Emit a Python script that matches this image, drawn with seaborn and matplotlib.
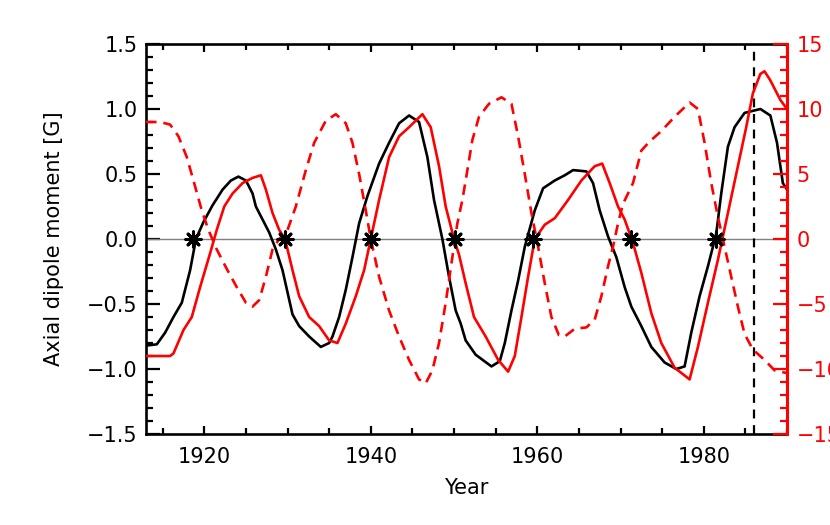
import numpy as np
import matplotlib
matplotlib.use("Agg")
import matplotlib.pyplot as plt
from matplotlib.ticker import MultipleLocator
import seaborn as sns

# axial dipole moment (left axis, G)
black_years = [1913.0, 1914.3, 1915.3, 1916.3, 1917.3, 1918.3, 1919.0, 1919.9, 1921.0, 1922.2,
               1923.2, 1924.1, 1925.0, 1925.8, 1926.2, 1927.0, 1927.8, 1928.6, 1929.4, 1930.6,
               1931.4, 1932.6, 1934.0, 1935.0, 1935.4, 1936.2, 1937.0, 1937.8, 1938.6, 1939.6,
               1941.0, 1942.2, 1943.4, 1944.6, 1945.8, 1946.8, 1947.6, 1948.6, 1949.4, 1950.2,
               1950.8, 1951.4, 1952.6, 1954.5, 1955.5, 1956.1, 1956.9, 1957.7, 1958.5, 1959.7,
               1960.7, 1962.1, 1963.3, 1964.3, 1965.9, 1966.7, 1967.5, 1968.5, 1969.5, 1970.5,
               1971.3, 1972.5, 1973.7, 1975.3, 1976.7, 1977.7, 1978.5, 1979.5, 1980.5, 1981.5,
               1982.1, 1982.9, 1983.7, 1984.9, 1986.8, 1988.0, 1988.8, 1989.5, 1990.0]
black_vals = [-0.82, -0.81, -0.72, -0.60, -0.49, -0.24, 0.0, 0.13, 0.26, 0.38,
              0.45, 0.48, 0.45, 0.35, 0.25, 0.15, 0.05, -0.08, -0.24, -0.58,
              -0.67, -0.75, -0.83, -0.80, -0.75, -0.60, -0.39, -0.14, 0.12, 0.33,
              0.58, 0.74, 0.89, 0.95, 0.90, 0.63, 0.30, 0.0, -0.29, -0.55,
              -0.65, -0.78, -0.89, -0.98, -0.94, -0.80, -0.55, -0.32, -0.06, 0.22,
              0.39, 0.45, 0.49, 0.53, 0.52, 0.43, 0.22, 0.02, -0.14, -0.37,
              -0.52, -0.67, -0.83, -0.95, -1.0, -0.98, -0.72, -0.44, -0.21, 0.04,
              0.35, 0.71, 0.86, 0.97, 1.0, 0.95, 0.74, 0.43, 0.38]

# red solid curve (right axis)
red_years = [1913.0, 1915.9, 1916.3, 1917.5, 1918.5, 1919.5, 1920.7, 1921.5, 1922.4, 1923.4,
             1924.6, 1925.8, 1926.8, 1927.4, 1928.2, 1929.0, 1929.7, 1930.6, 1931.4, 1932.6,
             1933.8, 1935.0, 1936.0, 1937.0, 1938.2, 1939.2, 1940.0, 1941.0, 1942.2, 1943.4,
             1944.6, 1946.2, 1947.2, 1948.2, 1949.0, 1950.0, 1950.6, 1951.4, 1952.4, 1953.8,
             1955.3, 1956.5, 1957.3, 1958.1, 1958.9, 1959.7, 1960.9, 1962.1, 1963.7, 1965.3,
             1966.9, 1967.8, 1968.7, 1969.7, 1970.5, 1971.5, 1972.5, 1973.7, 1974.9, 1976.5,
             1978.3, 1979.3, 1980.5, 1981.7, 1982.9, 1984.1, 1985.1, 1985.9, 1986.8, 1987.3,
             1988.0, 1989.2, 1990.0]
red_vals = [-9.0, -9.0, -8.8, -7.0, -6.0, -3.7, -1.1, 0.7, 2.5, 3.5,
            4.3, 4.7, 4.9, 3.8, 2.0, 0.7, 0.0, -2.4, -4.4, -6.0,
            -6.7, -7.8, -8.0, -6.5, -4.4, -2.4, 0.0, 3.0, 6.3, 7.9,
            8.6, 9.6, 8.6, 5.6, 2.5, 0.0, -1.2, -3.4, -6.0, -7.5,
            -9.3, -10.2, -9.0, -6.0, -2.9, 0.0, 1.1, 1.6, 3.0, 4.5,
            5.6, 5.8, 4.3, 2.5, 1.5, -0.3, -2.6, -5.7, -8.0, -9.9,
            -10.8, -8.3, -4.9, -1.6, 2.0, 5.6, 8.6, 11.2, 12.7, 12.9,
            12.2, 10.7, 10.0]

# red dashed curve (right axis)
dash_years = [1913.0, 1914.7, 1915.9, 1916.9, 1917.9, 1918.7, 1919.7, 1920.5, 1921.5, 1922.7,
              1923.9, 1925.0, 1925.8, 1926.6, 1927.4, 1928.2, 1929.0, 1930.0, 1931.0, 1932.2,
              1933.2, 1934.6, 1935.8, 1937.0, 1937.8, 1938.6, 1939.4, 1940.0, 1941.0, 1942.2,
              1943.4, 1944.6, 1945.8, 1946.6, 1947.4, 1948.2, 1949.0, 1949.8, 1950.4, 1951.0,
              1951.4, 1952.2, 1953.0, 1954.2, 1955.7, 1956.9, 1957.7, 1958.5, 1959.3, 1960.1,
              1960.9, 1961.7, 1962.6, 1963.3, 1964.5, 1965.9, 1966.9, 1967.7, 1968.5, 1969.1,
              1969.7, 1970.3, 1971.5, 1972.5, 1973.5, 1974.9, 1976.5, 1978.3, 1979.3, 1980.1,
              1980.9, 1981.7, 1982.5, 1983.3, 1984.1, 1984.9, 1985.9, 1987.3, 1988.5, 1989.9]
dash_vals = [9.0, 9.0, 8.8, 7.9, 6.3, 4.5, 2.2, 0.7, -0.8, -2.3,
             -3.7, -4.9, -5.2, -4.7, -2.9, -0.8, 0.0, 0.7, 2.5, 5.3,
             7.4, 9.1, 9.6, 8.9, 7.4, 5.0, 2.2, 0.0, -2.9, -5.5,
             -7.5, -9.3, -10.8, -11.1, -10.1, -8.0, -4.9, -1.4, 1.2, 3.0,
             4.5, 7.6, 9.4, 10.4, 10.9, 10.4, 7.9, 5.0, 2.0, -0.6,
             -3.4, -6.0, -7.4, -7.5, -6.9, -6.8, -6.2, -4.4, -2.1, -0.6,
             1.2, 2.7, 4.3, 6.8, 7.5, 8.3, 9.4, 10.5, 10.0, 7.4,
             4.3, 1.7, -0.6, -2.9, -5.2, -7.3, -8.5, -9.3, -10.1, -10.3]

# reversal times marked with asterisks
star_years = [1918.7, 1929.7, 1940.0, 1950.1, 1959.5, 1971.3, 1981.5]
star_vals = [0, 0, 0, 0, 0, 0, 0]

vline_year = 1986.0

sns.set_style("ticks")
plt.rcParams['font.family'] = ['DejaVu Sans']
plt.rcParams['font.size'] = 15
plt.rcParams['text.color'] = 'black'
plt.rcParams['axes.labelcolor'] = 'black'
plt.rcParams['xtick.color'] = 'black'
plt.rcParams['ytick.color'] = 'black'

fig = plt.figure(figsize=(8.3, 5.25), dpi=100)
ax = fig.add_axes([0.1759, 0.1733, 0.7723, 0.7429])
ax2 = ax.twinx()

ax.axhline(0, color='#808080', lw=1.0, zorder=1)
sns.lineplot(x=black_years, y=black_vals, ax=ax, color='black', linewidth=1.9, zorder=3)
ax.axvline(vline_year, color='black', lw=1.6, linestyle=(0, (4, 3)), zorder=2)

sns.lineplot(x=red_years, y=red_vals, ax=ax2, color='red', linewidth=1.9)
sns.lineplot(x=dash_years, y=dash_vals, ax=ax2, color='red', linewidth=1.9,
             linestyle=(0, (4, 2.6)))
sns.scatterplot(x=star_years, y=star_vals, ax=ax2, marker=(8, 2, 0), s=120,
                color='black', linewidth=2.2, zorder=6)

ax.set_xlim(1913, 1990)
ax.set_ylim(-1.5, 1.5)
ax2.set_ylim(-15, 15)

ax.xaxis.set_major_locator(MultipleLocator(20))
ax.xaxis.set_minor_locator(MultipleLocator(5))
ax.yaxis.set_major_locator(MultipleLocator(0.5))
ax.yaxis.set_minor_locator(MultipleLocator(0.1))
ax2.yaxis.set_major_locator(MultipleLocator(5))
ax2.yaxis.set_minor_locator(MultipleLocator(1))

ax.tick_params(axis='x', which='both', direction='in', top=True, bottom=True,
               width=1.6, labelsize=15, pad=9, colors='black')
ax.tick_params(axis='x', which='major', length=6)
ax.tick_params(axis='x', which='minor', length=4)
ax.tick_params(axis='y', which='both', direction='in', left=True, right=False,
               width=1.6, labelsize=15, pad=6, colors='black')
ax.tick_params(axis='y', which='major', length=10)
ax.tick_params(axis='y', which='minor', length=5)
ax2.tick_params(axis='y', which='both', direction='in', right=True, left=False,
                width=1.6, labelsize=15, pad=7, colors='red')
ax2.tick_params(axis='y', which='major', length=10)
ax2.tick_params(axis='y', which='minor', length=5)

for side in ['left', 'top', 'bottom']:
    ax.spines[side].set_linewidth(1.9)
    ax.spines[side].set_color('black')
    ax2.spines[side].set_visible(False)
ax.spines['right'].set_visible(False)
ax2.spines['right'].set_color('red')
ax2.spines['right'].set_linewidth(2.2)

ax.set_xlabel('Year', fontsize=15, color='black')
ax.set_ylabel('Axial dipole moment [G]', fontsize=15, color='black')
ax.xaxis.set_label_coords(0.5, -0.112)
ax.yaxis.set_label_coords(-0.128, 0.5)
ax2.set_ylabel('')

fig.savefig('out.png', dpi=100)
